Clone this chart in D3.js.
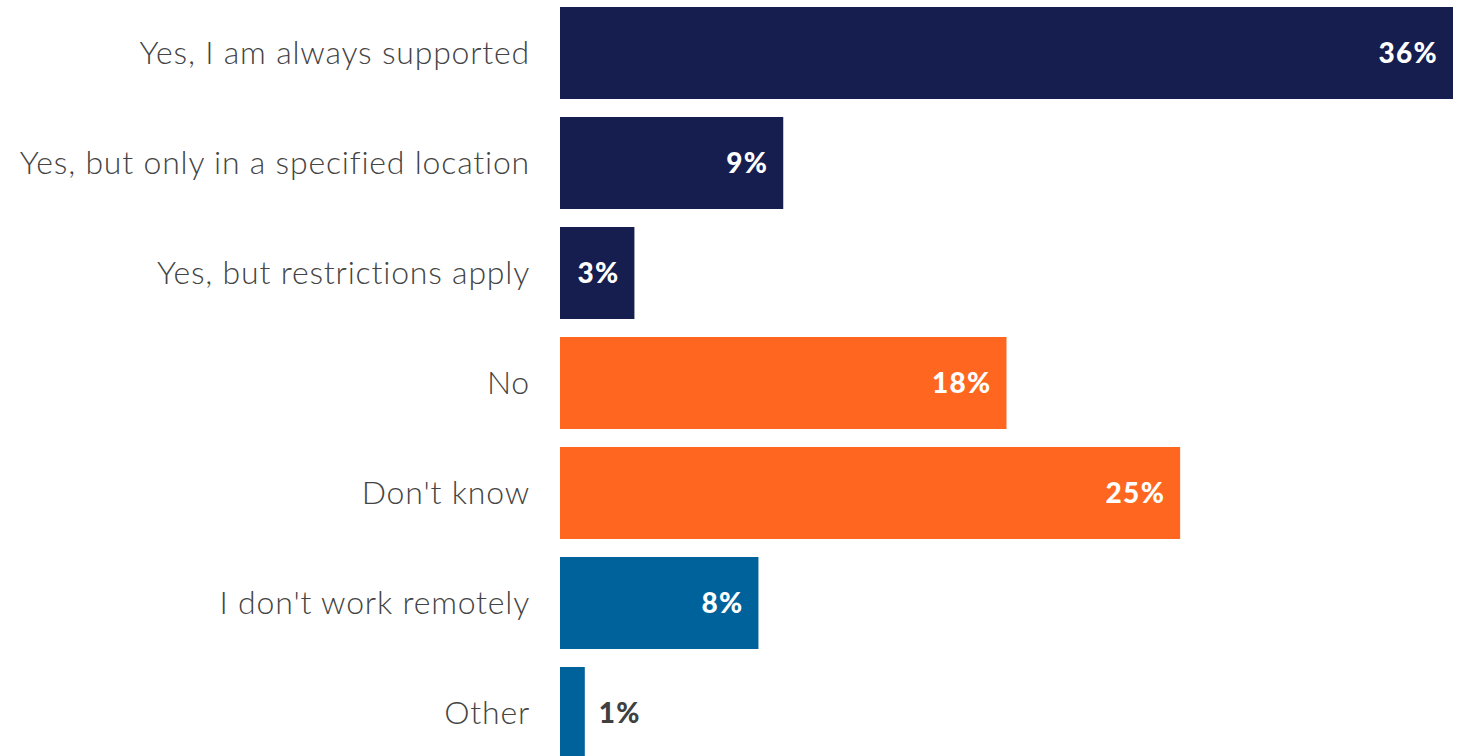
<!DOCTYPE html>
<html>
<head>
<meta charset="utf-8">
<script src="https://cdn.jsdelivr.net/npm/d3@7"></script>
<style>
  html, body { margin: 0; padding: 0; background: #fff; }
  svg { display: block; }
</style>
</head>
<body>
<svg id="chart" width="1470" height="756"></svg>
<script>
const categories = [
  "Yes, I am always supported",
  "Yes, but only in a specified location",
  "Yes, but restrictions apply",
  "No",
  "Don't know",
  "I don't work remotely",
  "Other"
];
const values = [36, 9, 3, 18, 25, 8, 1];
const groups = ["yes", "yes", "yes", "no", "no", "other", "other"];
const groupColors = { yes: "#161d4f", no: "#ff6720", other: "#00629b" };

const svg = d3.select("#chart");

const x = d3.scaleLinear().domain([0, 36]).range([560, 1453]);
const y = d3.scaleBand()
  .domain(categories)
  .range([7, 759])
  .paddingInner(18 / 110)
  .paddingOuter(0);

const rows = categories.map((c, i) => ({ cat: c, value: values[i], group: groups[i] }));

svg.selectAll("rect.bar")
  .data(rows)
  .join("rect")
  .attr("class", "bar")
  .attr("x", x(0))
  .attr("y", d => y(d.cat))
  .attr("width", d => x(d.value) - x(0))
  .attr("height", y.bandwidth())
  .attr("fill", d => groupColors[d.group]);

// category labels on the left
svg.selectAll("text.cat")
  .data(rows)
  .join("text")
  .attr("class", "cat")
  .attr("x", 530)
  .attr("y", d => y(d.cat) + y.bandwidth() / 2)
  .attr("dy", "0.35em")
  .attr("text-anchor", "end")
  .style("font-family", "Lato, 'Open Sans', sans-serif")
  .style("font-weight", 300)
  .style("font-size", "32px")
  .style("letter-spacing", "0.8px")
  .attr("fill", "#444444")
  .text(d => d.cat);

// value labels: inside the bar end, or just outside when the bar is too short
svg.selectAll("text.val")
  .data(rows)
  .join("text")
  .attr("class", "val")
  .attr("x", d => d.value >= 3 ? x(d.value) - 15 : x(d.value) + 14)
  .attr("y", d => y(d.cat) + y.bandwidth() / 2)
  .attr("dy", "0.35em")
  .attr("text-anchor", d => d.value >= 3 ? "end" : "start")
  .style("font-family", "Lato, 'Open Sans', sans-serif")
  .style("font-weight", 900)
  .style("font-size", "28px")
  .style("letter-spacing", "1.3px")
  .attr("fill", d => d.value >= 3 ? "#ffffff" : "#404040")
  .text(d => d.value + "%");
</script>
</body>
</html>
